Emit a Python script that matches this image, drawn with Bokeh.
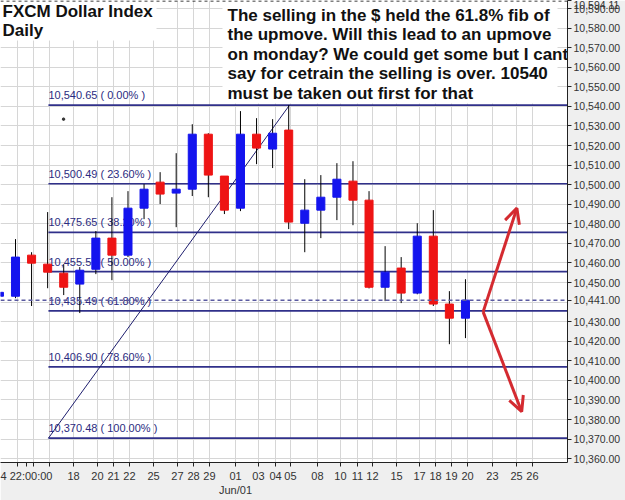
from bokeh.plotting import figure
from bokeh.models import (Range1d, FixedTicker, NumeralTickFormatter, Span,
                          Arrow, OpenHead, ColumnDataSource)
from bokeh.core.properties import value
from bokeh.embed import file_html
from bokeh.resources import INLINE

# ---------------- data ----------------
bar_index = list(range(-1, 29))
opens  = [10443.0, 10443.0, 10464.0, 10459.4, 10454.8, 10449.2, 10456.8, 10472.7, 10464.0, 10488.0,
          10501.3, 10495.7, 10497.7, 10525.8, 10504.4, 10488.0, 10525.8, 10518.2, 10527.9, 10480.3,
          10487.0, 10493.6, 10501.8, 10492.1, 10447.6, 10457.4, 10444.6, 10473.7, 10439.0, 10431.8]
highs  = [10446.0, 10472.2, 10465.5, 10486.0, 10459.4, 10457.9, 10476.3, 10493.6, 10496.7, 10500.3,
          10506.4, 10516.1, 10530.9, 10526.3, 10504.4, 10537.6, 10534.0, 10533.5, 10540.65, 10502.8,
          10504.9, 10511.0, 10512.0, 10496.7, 10468.6, 10463.0, 10480.3, 10487.0, 10445.6, 10451.7]
lows   = [10440.0, 10442.0, 10438.0, 10447.1, 10443.6, 10434.4, 10454.3, 10451.2, 10463.0, 10482.4,
          10490.1, 10478.3, 10494.2, 10493.6, 10485.0, 10486.5, 10510.5, 10508.5, 10477.3, 10465.5,
          10472.7, 10481.9, 10479.3, 10447.0, 10440.5, 10439.5, 10444.0, 10438.0, 10418.5, 10421.6]
closes = [10445.0, 10463.0, 10459.9, 10455.3, 10447.6, 10456.3, 10472.7, 10464.0, 10488.0, 10497.7,
          10495.2, 10497.7, 10525.8, 10504.9, 10487.0, 10525.8, 10518.7, 10526.3, 10480.9, 10487.0,
          10493.6, 10502.8, 10492.1, 10447.6, 10455.3, 10444.6, 10473.7, 10439.0, 10431.8, 10441.0]

fib_levels = [10540.65, 10500.49, 10475.65, 10455.57, 10435.49, 10406.90, 10370.48]
fib_pcts   = ["0.00%", "23.60%", "38.20%", "50.00%", "61.80%", "78.60%", "100.00%"]
fib_start_bar, fib_end_bar = 2.05, 17.05

last_price = 10441.00
top_price = 10594.11

grid_y = list(range(10360, 10600, 10))
y_ticks = [v for v in grid_y if v != 10440] + [last_price, top_price]
grid_x = [0.12, 1.12, 2.12, 3.61, 5.10, 6.10, 7.09, 8.59, 10.08, 11.08, 12.07, 13.69, 15.12,
          16.18, 17.11, 18.79, 20.22, 21.28, 22.21, 23.71, 25.14, 26.14, 27.13, 28.13, 29.68,
          31.18, 32.17]
x_tick_lab = ["", "", "", "18", "20", "21", "22", "25", "27", "28", "29", "01\nJun/01", "03",
              "04", "05", "08", "10", "11", "12", "15", "17", "18", "19", "20", "23", "25", "26"]
cursor_time = "4 22:00:00"
cursor_bar = 0.68

arrow_start = (29.1, 10435.0)
arrow_up_end = (31.2, 10488.0)
arrow_down_end = (31.5, 10384.0)
stray_dot = (2.99, 10533.5)

title_lines = ["FXCM Dollar Index", "Daily"]
note_lines = ["The selling in the $ held the 61.8% fib of",
              "the upmove. Will this lead to an upmove",
              "on monday? We could get some but I cant",
              "say for cetrain the selling is over. 10540",
              "must be taken out first for that"]

# ---------------- layout helpers ----------------
W, H = 625, 500
RB, BB = 58, 38
FW, FH = W - RB, H - BB
XPX0, XPX = 15.0, 16.07
YTOP, PPU = 10594.12, 1.957


def xd(px):
    return (px - XPX0) / XPX


def yd(py):
    return YTOP - py / PPU


p = figure(width=W, height=H, output_backend="svg", toolbar_location=None,
           x_range=Range1d(xd(0), xd(FW)), y_range=Range1d(yd(FH), yd(0)),
           y_axis_location="right", min_border_left=0, min_border_top=0,
           min_border_right=RB, min_border_bottom=BB,
           background_fill_color="white", border_fill_color="#efefef")
p.outline_line_color = None

FONT = "Liberation Sans"
AX = "#333333"

ya = p.yaxis[0]
ya.ticker = FixedTicker(ticks=y_ticks)
ya.formatter = NumeralTickFormatter(format="0,0.00")
ya.major_tick_out = 4
ya.major_tick_in = 0
ya.minor_tick_out = 0
ya.minor_tick_in = 0
ya.major_label_standoff = 2
ya.major_label_text_font = FONT
ya.major_label_text_font_size = "10.5px"
ya.major_label_text_color = AX
ya.axis_line_color = "#222222"
ya.major_tick_line_color = "#222222"

xa = p.xaxis[0]
x_ticks = grid_x + [cursor_bar]
xa.ticker = FixedTicker(ticks=x_ticks)
overrides = {t: l for t, l in zip(grid_x, x_tick_lab)}
overrides[cursor_bar] = cursor_time
xa.major_label_overrides = overrides
xa.major_tick_out = 4
xa.major_tick_in = 0
xa.minor_tick_out = 0
xa.minor_tick_in = 0
xa.major_label_standoff = 3
xa.major_label_text_font = FONT
xa.major_label_text_font_size = "11px"
xa.major_label_text_color = AX
xa.axis_line_color = "#222222"
xa.major_tick_line_color = "#222222"

p.xgrid.grid_line_color = "#d6d6d6"
p.ygrid.grid_line_color = "#d6d6d6"
p.xgrid.ticker = FixedTicker(ticks=grid_x)
p.ygrid.ticker = FixedTicker(ticks=grid_y)

# white boxes behind the texts
p.quad(left=[xd(-2), xd(222)], right=[xd(156), xd(557)], top=[yd(-2), yd(-2)],
       bottom=[yd(40), yd(103)], fill_color="white", line_color=None)

# top dashed border
p.add_layout(Span(location=yd(0.5), dimension="width", line_color="black",
                  line_dash="3 3", line_width=1))

# fib lines and labels
x_end = xd(FW)
p.segment(x0=[fib_start_bar] * len(fib_levels), y0=fib_levels, x1=[x_end] * len(fib_levels),
          y1=fib_levels, line_color="#30308a", line_width=1.7)
fib_text = ["{:,.2f} ( {} )".format(v, s) for v, s in zip(fib_levels, fib_pcts)]
p.text(x=[fib_start_bar] * len(fib_levels), y=fib_levels, text=fib_text,
       text_font=value(FONT), text_font_size="11px", text_color="#2b2b80",
       text_baseline="bottom", y_offset=-4)
p.segment(x0=[fib_start_bar], y0=[fib_levels[-1]], x1=[fib_end_bar], y1=[fib_levels[0]],
          line_color="#1e1e6e", line_width=1)

# last price dashed line
p.add_layout(Span(location=last_price, dimension="width", line_color="#5a5aa0",
                  line_dash="4 3", line_width=1.5))

# candles
up_col, dn_col = "#1414ee", "#ee1414"
src = ColumnDataSource(dict(
    x=bar_index, o=opens, h=highs, l=lows, c=closes,
    top=[max(a, b) for a, b in zip(opens, closes)],
    bot=[min(a, b) for a, b in zip(opens, closes)],
    col=[up_col if c >= o else dn_col for o, c in zip(opens, closes)]))
p.segment(x0="x", y0="l", x1="x", y1="h", source=src, line_color="black", line_width=1)
p.vbar(x="x", width=0.5, top="top", bottom="bot", source=src, fill_color="col", line_color="col")

p.scatter(x=[stray_dot[0]], y=[stray_dot[1]], size=2.5, color="#333333")

# arrows
RED = "#d42a30"
for end in (arrow_up_end, arrow_down_end):
    p.add_layout(Arrow(x_start=arrow_start[0], y_start=arrow_start[1], x_end=end[0], y_end=end[1],
                       line_color=RED, line_width=3,
                       end=OpenHead(size=15, line_color=RED, line_width=3)))

# texts
p.text(x=[xd(2)] * 2, y=[yd(11), yd(30)], text=title_lines, text_font=value(FONT),
       text_font_style="bold", text_font_size="17px", text_color="#111111",
       text_baseline="middle")
p.text(x=[xd(227)] * len(note_lines), y=[yd(14.6 + 19.5 * k) for k in range(len(note_lines))],
       text=note_lines, text_font=value(FONT), text_font_style="bold", text_font_size="17px",
       text_color="#111111", text_baseline="middle")

open("out.html", "w").write(file_html(p, INLINE))
